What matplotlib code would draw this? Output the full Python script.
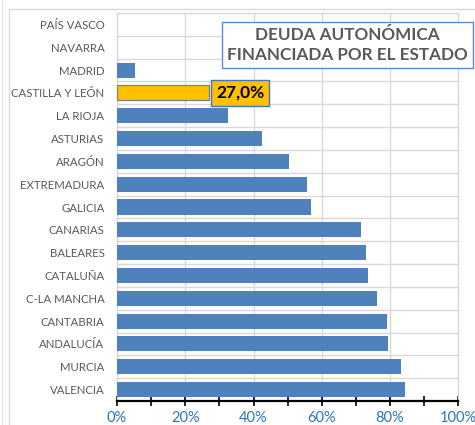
import matplotlib
matplotlib.use("Agg")
import matplotlib.pyplot as plt
from matplotlib.patches import Rectangle
from matplotlib.ticker import MultipleLocator, FuncFormatter
import numpy as np

plt.rcParams['font.family'] = ['Lato', 'DejaVu Sans']

regions = ["PAÍS VASCO", "NAVARRA", "MADRID", "CASTILLA Y LEÓN", "LA RIOJA",
           "ASTURIAS", "ARAGÓN", "EXTREMADURA", "GALICIA", "CANARIAS",
           "BALEARES", "CATALUÑA", "C-LA MANCHA", "CANTABRIA", "ANDALUCÍA",
           "MURCIA", "VALENCIA"]
values = [0.0, 0.0, 0.052, 0.270, 0.326, 0.426, 0.505, 0.557, 0.567, 0.716,
          0.731, 0.736, 0.763, 0.791, 0.794, 0.831, 0.845]
highlight = "CASTILLA Y LEÓN"
highlight_label = "27,0%"
title = "DEUDA AUTONÓMICA\nFINANCIADA POR EL ESTADO"
xticks = [0.0, 0.2, 0.4, 0.6, 0.8, 1.0]

W, H = 475, 425
fig = plt.figure(figsize=(W / 100, H / 100), dpi=100)
ax = fig.add_axes([117 / W, 1 - 401 / H, (458.3 - 117) / W, (401 - 13) / H])

n = len(regions)
ypos = np.arange(n)
for i, (r, v) in enumerate(zip(regions, values)):
    if v <= 0:
        continue
    if r == highlight:
        ax.barh(i, v, height=0.66, color="#FFC000", edgecolor="#7F7F7F", linewidth=0.9, zorder=3)
    else:
        ax.barh(i, v, height=0.66, color="#4F81BD", linewidth=0, zorder=3)

ax.set_ylim(n - 0.5, -0.5)
ax.set_xlim(0, 1.0)
ax.set_yticks(ypos)
ax.set_yticklabels(regions, fontsize=8.2, color="#595959")
ax.tick_params(axis='y', length=0, pad=9)
ax.set_yticks(np.arange(-0.5, n, 1), minor=True)
ax.tick_params(axis='y', which='minor', length=0)

ax.set_xticks(xticks)
ax.xaxis.set_major_formatter(FuncFormatter(lambda v, p: f"{v*100:.0f}%"))
ax.xaxis.set_minor_locator(MultipleLocator(0.1))
ax.tick_params(axis='x', which='both', direction='inout', length=7, width=1.2,
               color='black', labelsize=10.5, labelcolor="#2E75B6", pad=4)

ax.grid(True, axis='x', which='major', color="#D9D9D9", linewidth=1.0, zorder=0)
ax.grid(True, axis='y', which='minor', color="#D9D9D9", linewidth=1.0, zorder=0)
for s in ['left', 'top', 'right']:
    ax.spines[s].set_color("#D9D9D9")
    ax.spines[s].set_linewidth(1.0)
ax.spines['bottom'].set_color('black')
ax.spines['bottom'].set_linewidth(1.6)
ax.spines['bottom'].set_zorder(4)

# highlight label
hi = regions.index(highlight)
ax.text(values[hi] + 0.02, hi, highlight_label, ha='left', va='center',
        fontsize=12.5, fontweight='bold', color='black', zorder=5,
        bbox=dict(boxstyle='square,pad=0.28', facecolor="#FFC000",
                  edgecolor="#4472C4", linewidth=1.0))

# title box
fig.text((225 + 469) / 2 / W, 1 - 45 / H, title, ha='center', va='center',
         fontsize=12.3, fontweight='bold', color="#595959", linespacing=1.3,
         bbox=dict(boxstyle='square,pad=0.3', facecolor='white',
                   edgecolor="#5B8BD0", linewidth=1.0), zorder=10)

# chart frame
fig.patches.append(Rectangle((9 / W, -0.1), 1.2, 1 - 9 / H + 0.1, transform=fig.transFigure,
                             fill=False, edgecolor="#D9D9D9", linewidth=1.0))
fig.lines.append(plt.Line2D([2 / W, 2 / W], [0, 1], transform=fig.transFigure,
                            color="#E6E6E6", linewidth=1.0))

fig.savefig("out.png", dpi=100)
